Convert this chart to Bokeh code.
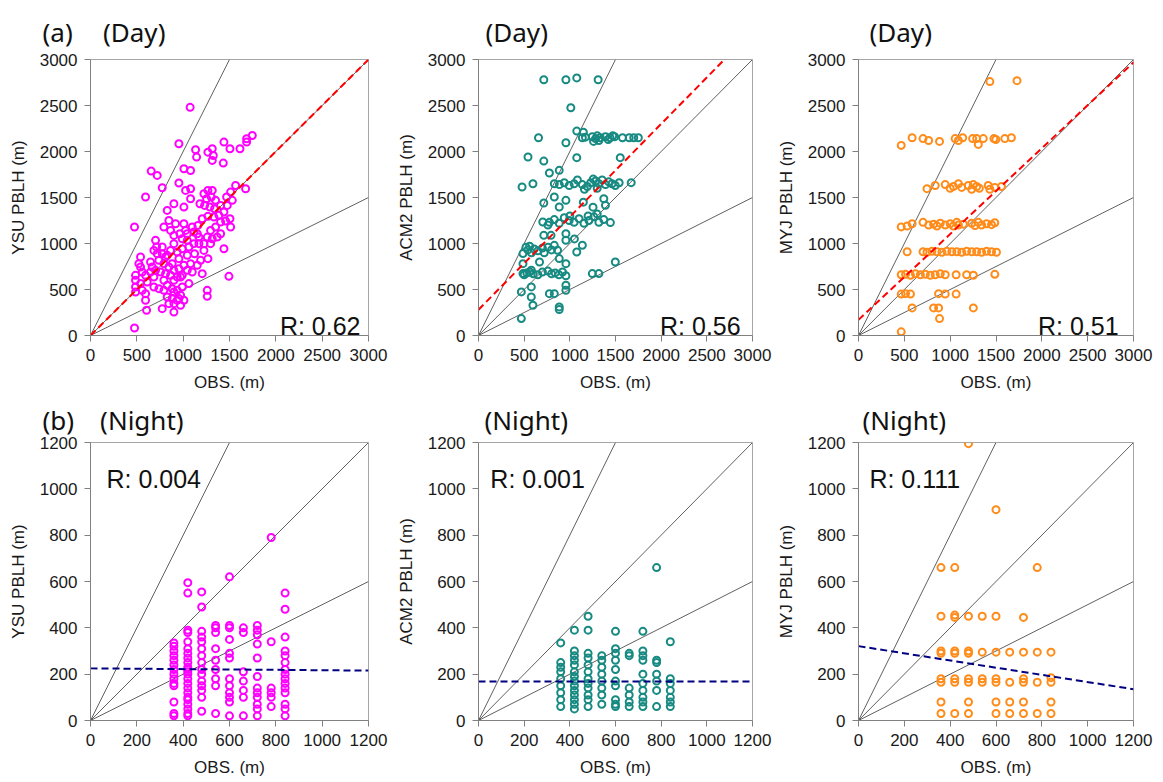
from bokeh.plotting import figure
from bokeh.layouts import row, column
from bokeh.models import Label, Range1d, FixedTicker, Title
from bokeh.embed import file_html
from bokeh.resources import INLINE

# ---------------- data ----------------
day_ticks = [0, 500, 1000, 1500, 2000, 2500, 3000]
night_ticks = [0, 200, 400, 600, 800, 1000, 1200]
model_names = ["YSU", "ACM2", "MYJ"]
day_r = ["R: 0.62", "R: 0.56", "R: 0.51"]
night_r = ["R: 0.004", "R: 0.001", "R: 0.111"]
ref_ratios = [2.0, 1.0, 0.5]
day_fit_intercept = [0, 280, 170]
day_fit_slope = [1.0, 1.01, 0.933]
night_fit_intercept = [225, 168, 321]
night_fit_slope = [-0.008, 0.0, -0.155]

ysu_day_x = [1075, 954, 1134, 1145, 1267, 1314, 1325, 1314, 1440, 1505,
             1613, 1685, 1746, 1685, 1433, 655, 720, 1008, 1080, 774,
             954, 1026, 1080, 594, 1566, 1674, 475, 900, 828, 1008,
             1080, 846, 918, 1008, 1026, 1098, 1152, 702, 713, 774,
             900, 1044, 1170, 1224, 1296, 1368, 1404, 1440, 540, 648,
             738, 810, 882, 954, 1080, 1188, 1267, 540, 486, 486,
             486, 612, 684, 792, 900, 972, 1062, 1206, 1494, 594,
             594, 605, 774, 900, 900, 954, 972, 1260, 1260, 475,
             1224, 1267, 1314, 1253, 1303, 1350, 1231, 1289, 1339, 1404,
             1469, 1512, 1530, 1476, 1440, 1386, 1332, 1267, 1206, 1181,
             1404, 1458, 1512, 1505, 1350, 1296, 1260, 1314, 1224, 1170,
             1159, 1116, 792, 864, 900, 965, 990, 1044, 1062, 1116,
             1123, 1044, 990, 936, 864, 828, 774, 720, 684, 792,
             846, 900, 954, 1008, 1044, 1098, 1152, 990, 936, 864,
             810, 756, 702, 648, 594, 558, 522, 486, 666, 828,
             882, 936, 990, 792, 738, 684, 540, 558, 828, 882,
             936, 972, 900, 846, 1008]
ysu_day_y = [2480, 2084, 2019, 1939, 1993, 2030, 1957, 1903, 2102, 2030,
             2030, 2138, 2174, 2102, 1874, 1787, 1740, 1812, 1794, 1606,
             1657, 1577, 1595, 1505, 1631, 1595, 1179, 1432, 1360, 1396,
             1487, 1251, 1215, 1215, 1142, 1179, 1106, 1034, 962, 962,
             998, 1034, 998, 925, 998, 1070, 1106, 943, 853, 799,
             817, 853, 781, 835, 781, 817, 835, 745, 600, 527,
             473, 582, 636, 600, 600, 636, 564, 672, 643, 455,
             383, 274, 292, 346, 256, 401, 328, 491, 426, 82,
             1541, 1577, 1577, 1487, 1505, 1469, 1414, 1396, 1378, 1414,
             1505, 1559, 1469, 1414, 1342, 1306, 1287, 1295, 1269, 1432,
             1233, 1244, 1179, 1269, 1179, 1142, 1070, 1052, 998, 1070,
             1197, 1125, 1179, 1142, 1088, 1106, 1052, 1106, 962, 998,
             889, 871, 943, 907, 925, 871, 889, 889, 925, 781,
             745, 708, 726, 763, 708, 690, 763, 654, 636, 654,
             672, 690, 708, 690, 654, 690, 781, 654, 745, 545,
             509, 491, 527, 491, 509, 527, 564, 491, 419, 401,
             383, 437, 473, 346, 383]

acm_day_x = [715, 957, 1076, 1310, 1011, 1076, 1148,
             1137, 1246, 1260, 1282, 1300, 1318, 1333, 1390, 1420, 1440,
             1470, 1490, 1577, 1650, 1700, 1750, 657, 957, 1170,
             542, 715, 1076, 1552, 477, 596, 776, 884,
             830, 885, 939, 993, 1047, 1083, 1137, 1191, 1228, 1256,
             1282, 1318, 1354, 1390, 1426, 1462, 1498, 1540, 1672, 1300, 1160,
             715, 830, 957, 884, 1372, 1390, 1148, 1254,
             704, 776, 830, 884, 939, 993, 1047, 1101, 1155, 1209,
             1264, 1318, 1372, 1444, 760, 1000, 1200, 1300,
             715, 794, 957, 957, 1137, 1076, 1050,
             487, 520, 540, 560, 580, 610, 650, 700, 720, 760, 800, 830, 866,
             487, 487, 578, 668, 884, 957,
             500, 530, 560, 600, 650, 700, 760, 800, 840, 880, 920, 957,
             1246, 1318, 1498,
             469, 578, 578, 596, 776, 830, 957, 957, 884, 884, 469]
acm_day_y = [2780, 2780, 2800, 2780, 2476, 2222, 2210,
             2150, 2160, 2110, 2140, 2170, 2120, 2150, 2160, 2130, 2150,
             2170, 2160, 2150, 2150, 2150, 2150, 2150, 2095, 2156,
             1940, 1896, 1933, 1933, 1614, 1650, 1766, 1795,
             1650, 1640, 1660, 1630, 1650, 1690, 1640, 1620, 1660, 1700,
             1680, 1650, 1690, 1640, 1670, 1650, 1630, 1660, 1661, 1600, 1590,
             1440, 1505, 1469, 1397, 1487, 1415, 1449, 1395,
             1234, 1230, 1260, 1220, 1280, 1250, 1230, 1270, 1220, 1250,
             1290, 1230, 1260, 1227, 1200, 1300, 1300, 1320,
             1089, 1089, 1107, 1035, 981, 908, 1050,
             890, 960, 930, 970, 900, 940, 920, 950, 900, 960, 930, 980, 926,
             781, 673, 709, 799, 836, 781,
             660, 680, 690, 670, 660, 690, 700, 670, 680, 660, 690, 650,
             673, 673, 799,
             474, 528, 419, 329, 455, 455, 492, 546, 311, 282, 184]

myj_day_x = [1433, 1729,
             466, 585, 704, 765, 884, 1054, 1090, 1137, 1245, 1289, 1307,
             1361, 1477, 1498, 1596, 1668,
             747, 837, 946, 1000, 1036, 1090, 1126, 1198, 1235, 1253, 1289,
             1318, 1415, 1433, 1487, 1560,
             466, 531, 585, 704, 765, 819, 856, 892, 946, 1000, 1036, 1072,
             1090, 1144, 1235, 1271, 1307, 1343, 1397, 1451, 1487,
             531, 704, 747, 801, 856, 910, 964, 1018, 1072, 1126, 1180, 1235,
             1289, 1343, 1397, 1451, 1505,
             466, 513, 567, 621, 675, 729, 783, 837, 892, 946, 1065, 1180,
             1253, 1487,
             466, 513, 567, 874, 946, 1065,
             585, 819, 874, 1253, 884, 466]
myj_day_y = [2760, 2770,
             2066, 2150, 2140, 2120, 2110, 2140, 2120, 2150, 2140, 2140, 2077,
             2140, 2140, 2130, 2140, 2150,
             1596, 1630, 1640, 1600, 1620, 1650, 1610, 1630, 1590, 1640, 1620,
             1600, 1630, 1590, 1610, 1620,
             1180, 1190, 1215, 1230, 1200, 1210, 1190, 1220, 1200, 1215, 1190,
             1230, 1200, 1210, 1220, 1195, 1230, 1200, 1215, 1205, 1225,
             910, 910, 905, 915, 910, 905, 915, 910, 910, 905, 915, 910,
             910, 905, 915, 910, 905,
             660, 665, 655, 670, 660, 665, 655, 660, 670, 660, 660, 660,
             655, 665,
             450, 455, 450, 455, 450, 450,
             300, 300, 300, 300, 184, 40]

night_obs = [360, 420, 480, 540, 600, 660, 720, 780, 840]
ysu_night_pblh = [
    [335, 320, 300, 280, 260, 240, 220, 200, 180, 160, 150, 80, 30, 20],
    [595, 550, 390, 380, 340, 310, 290, 270, 250, 230, 220, 210, 200, 180,
     160, 140, 120, 100, 90, 70, 50, 30, 20],
    [555, 490, 385, 360, 340, 310, 280, 250, 220, 200, 170, 150, 130, 100, 40],
    [410, 400, 380, 310, 260, 220, 180, 150, 30],
    [620, 410, 400, 350, 290, 270, 180, 150, 120, 100, 80, 20],
    [400, 380, 210, 170, 130, 100, 20],
    [410, 390, 370, 330, 270, 190, 140, 120, 100, 70, 50, 20],
    [790, 340, 140, 120, 100, 60],
    [550, 480, 360, 300, 280, 250, 220, 200, 180, 160, 140, 120, 70, 50, 20],
]
acm_night_pblh = [
    [335, 250, 230, 210, 180, 150, 120, 90, 60],
    [390, 300, 280, 260, 240, 210, 190, 170, 150, 130, 110, 90, 70, 50],
    [450, 390, 290, 270, 240, 210, 180, 160, 140, 110, 90, 60],
    [280, 260, 230, 200, 170, 140, 110, 70],
    [385, 310, 290, 260, 220, 170, 150, 90, 70, 60],
    [290, 280, 140, 110, 80, 60],
    [385, 300, 280, 260, 200, 160, 130, 100, 80, 60],
    [660, 260, 250, 200, 170, 130, 60],
    [340, 180, 160, 130, 100, 80, 60],
]
myj_night_pblh = [
    [660, 450, 300, 290, 180, 165, 80, 30],
    [660, 455, 445, 300, 290, 180, 165, 30],
    [1195, 450, 300, 290, 180, 165, 80, 30],
    [450, 295, 180, 165],
    [910, 450, 295, 180, 165, 80, 30],
    [295, 165, 80, 30],
    [445, 295, 180, 165, 80, 30],
    [660, 295, 165, 30],
    [295, 185, 165, 80, 30],
]

colors = ["#FF00FF", "#178A82", "#FF8C1A"]

AX_FONT = "Liberation Sans"
HEAD_FONT = "Noto Sans"


def flatten(obs, groups):
    xs, ys = [], []
    for o, g in zip(obs, groups):
        for v in g:
            xs.append(o)
            ys.append(v)
    return xs, ys


def make_panel(w, h, bl, br, bt, bb, vmax, ticks, ylabel, xs, ys, color,
               fit_b, fit_m, fit_color, head, head_dx, head_standoff,
               rtext, r_spec):
    fw = w - bl - br
    fh = h - bt - bb
    p = figure(width=w, height=h, output_backend="svg", toolbar_location=None,
               x_range=Range1d(0, vmax), y_range=Range1d(0, vmax),
               min_border_left=bl, min_border_right=br,
               min_border_top=bt, min_border_bottom=bb)
    p.title = Title(text=head, align="left", offset=head_dx,
                    text_font=HEAD_FONT, text_font_size="26px",
                    text_font_style="normal", text_color="#111111",
                    standoff=head_standoff, vertical_align="bottom")
    p.xgrid.visible = False
    p.ygrid.visible = False
    p.outline_line_color = "#a6a6a6"
    p.outline_line_width = 1
    p.background_fill_color = "white"
    p.border_fill_color = "white"
    for ax in (p.xaxis, p.yaxis):
        ax.ticker = FixedTicker(ticks=ticks)
        ax.major_label_text_font = AX_FONT
        ax.major_label_text_font_size = "17px"
        ax.major_label_text_color = "#1a1a1a"
        ax.axis_line_color = "#808080"
        ax.major_tick_line_color = "#808080"
        ax.major_tick_out = 6
        ax.major_tick_in = 0
        ax.minor_tick_out = 0
        ax.minor_tick_in = 0
        ax.major_label_standoff = 7
        ax.axis_label_text_font = AX_FONT
        ax.axis_label_text_font_size = "17px"
        ax.axis_label_text_font_style = "normal"
        ax.axis_label_text_color = "#1a1a1a"
        ax.axis_label_standoff = 9
    p.xaxis.axis_label = "OBS. (m)"
    p.yaxis.axis_label = ylabel

    # reference lines 2:1, 1:1, 1:2
    for r in ref_ratios:
        xe = min(vmax, vmax / r)
        p.line([0, xe], [0, r * xe], line_color="#606060", line_width=1)

    p.scatter(x=xs, y=ys, marker="circle", size=7, fill_color=None,
              line_color=color, line_width=2)

    p.line([0, vmax], [fit_b, fit_b + fit_m * vmax], line_color=fit_color,
           line_width=2, line_dash="7 4")

    align, dx, dy = r_spec
    p.add_layout(Label(x=dx / fw * vmax, y=dy / fh * vmax, text=rtext,
                       text_font=AX_FONT, text_font_size="25px", text_align=align,
                       text_baseline="alphabetic", text_color="#111111"))
    return p


day_data = [(ysu_day_x, ysu_day_y), (acm_day_x, acm_day_y), (myj_day_x, myj_day_y)]
night_data = [flatten(night_obs, ysu_night_pblh), flatten(night_obs, acm_night_pblh),
              flatten(night_obs, myj_night_pblh)]

widths = [393, 380, 385]
bls = [90, 82, 83]
brs = [25, 21, 25]
day_heads = ["(a)\u2003\u2009(Day)", "(Day)", "(Day)"]
night_heads = ["(b)\u2003(Night)", "(Night)", "(Night)"]
day_head_dx = [-48, 7, 11]
night_head_dx = [-48, 6, 4]
day_r_dx = [278 - 8, 277 - 12, 277 - 15]
night_r_dx = [16, 12, 11]

top, bottom = [], []
for i in range(3):
    top.append(make_panel(widths[i], 394, bls[i], brs[i], 59, 59, 3000, day_ticks,
                          model_names[i] + " PBLH (m)", day_data[i][0], day_data[i][1],
                          colors[i], day_fit_intercept[i], day_fit_slope[i], "#FF0000",
                          day_heads[i], day_head_dx[i], 20,
                          day_r[i], ("right", day_r_dx[i], 10)))
    bottom.append(make_panel(widths[i], 385, bls[i], brs[i], 48, 59, 1200, night_ticks,
                             model_names[i] + " PBLH (m)", night_data[i][0], night_data[i][1],
                             colors[i], night_fit_intercept[i], night_fit_slope[i], "#000080",
                             night_heads[i], night_head_dx[i], 10,
                             night_r[i], ("left", night_r_dx[i], 242)))

layout = column(row(*top, spacing=0), row(*bottom, spacing=0), spacing=0)
open("out.html", "w").write(file_html(layout, INLINE))
